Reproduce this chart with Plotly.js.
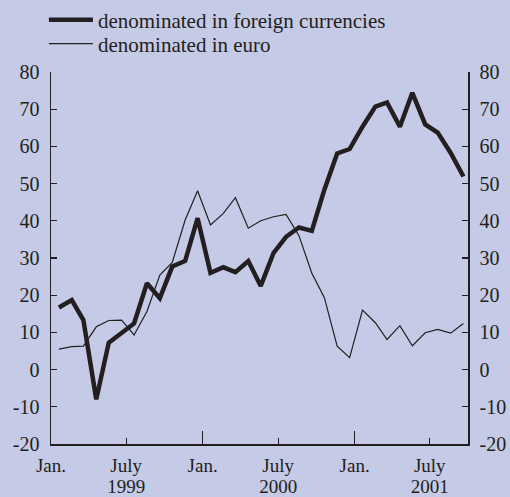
<!DOCTYPE html>
<html>
<head>
<meta charset="utf-8">
<script src="https://cdn.plot.ly/plotly-3.0.1.min.js"></script>
<style>html,body{margin:0;padding:0;background:#c5cae6;}#chart{width:510px;height:497px;}</style>
</head>
<body>
<div id="chart"></div>
<script>
// Monthly observations, Jan 1999 - Sep 2001
const months = ['1999-01','1999-02','1999-03','1999-04','1999-05','1999-06','1999-07','1999-08','1999-09','1999-10','1999-11','1999-12',
  '2000-01','2000-02','2000-03','2000-04','2000-05','2000-06','2000-07','2000-08','2000-09','2000-10','2000-11','2000-12',
  '2001-01','2001-02','2001-03','2001-04','2001-05','2001-06','2001-07','2001-08','2001-09'];
const foreignCurrencies = [16.7,18.7,13.3,-8.0,7.2,9.8,12.4,23.2,19.2,27.7,29.2,40.7,
  26.0,27.5,26.2,29.2,22.5,31.4,35.7,38.2,37.3,48.3,58.1,59.3,
  65.3,70.7,71.8,65.3,74.4,65.9,63.7,58.3,51.9];
const euro = [5.5,6.2,6.3,11.5,13.2,13.3,9.3,15.6,25.4,28.8,40.2,48.1,
  38.9,42.0,46.2,38.0,40.0,41.1,41.7,36.0,25.9,19.4,6.3,3.2,
  16.0,12.6,8.1,11.8,6.4,9.9,10.8,9.8,12.4];
const seriesNames = ['denominated in foreign currencies','denominated in euro'];
const tickDates = ['1999-01-01','1999-07-01','2000-01-01','2000-07-01','2001-01-01','2001-07-01'];
const tickLabels = ['Jan.','July','Jan.','July','Jan.','July'];
const yearDates = ['1999-07-01','2000-07-01','2001-07-01'];
const yearLabels = ['1999','2000','2001'];
const janDates = ['1999-01-01','2000-01-01','2001-01-01'];
const yTickVals = [-20,-10,0,10,20,30,40,50,60,70,80];
const yTickText = ['-20','-10','0','10','20','30','40','50','60','70','80'];

const xDates = months.map(m => m + '-20');
const ink = '#231f20';
const family = '"Liberation Serif", "Times New Roman", serif';
const font = {family: family, size: 20, color: ink};
const xFont = {family: family, size: 19, color: ink};
const legendFont = {family: family, size: 21, color: ink};
const xRange = ['1999-01-01', '2001-10-01'];

const traces = [
  {x: xDates, y: foreignCurrencies, name: seriesNames[0], type: 'scatter', mode: 'lines',
   line: {color: ink, width: 4.5}, legend: 'legend'},
  {x: xDates, y: euro, name: seriesNames[1], type: 'scatter', mode: 'lines',
   line: {color: ink, width: 1.2}, legend: 'legend2'},
  {x: xDates, y: euro, xaxis: 'x2', yaxis: 'y2', type: 'scatter', mode: 'lines', showlegend: false,
   hoverinfo: 'skip', line: {color: 'rgba(0,0,0,0)', width: 0}}
];

const yCommon = {
  range: [-20, 80], tickmode: 'array', tickvals: yTickVals, ticktext: yTickText,
  ticks: 'inside', ticklen: 6, tickwidth: 1.3, tickcolor: ink,
  showline: true, linecolor: ink, linewidth: 1.5, showgrid: false, zeroline: false,
  tickfont: font, ticklabelstandoff: 6, fixedrange: true, automargin: false
};

const legendCommon = {xanchor: 'left', yanchor: 'middle', bgcolor: 'rgba(0,0,0,0)',
  font: legendFont, itemwidth: 44, borderwidth: 0};

const layout = {
  width: 510, height: 497,
  paper_bgcolor: '#c5cae6', plot_bgcolor: '#c5cae6',
  font: font,
  margin: {l: 51, r: 42, t: 72, b: 53, autoexpand: false},
  showlegend: true,
  legend: Object.assign({x: -0.017, y: 1.1398}, legendCommon),
  legend2: Object.assign({x: -0.017, y: 1.0753}, legendCommon),
  xaxis: {
    type: 'date', range: xRange,
    tickmode: 'array', tickvals: tickDates, ticktext: tickLabels,
    ticks: 'inside', ticklen: 6, tickwidth: 1.3, tickcolor: ink,
    minor: {tickmode: 'array', tickvals: janDates, ticks: 'inside', ticklen: 13, tickwidth: 1.3, tickcolor: ink, showgrid: false},
    showline: true, linecolor: ink, linewidth: 1.5, showgrid: false, zeroline: false,
    tickfont: xFont, tickangle: 0, ticklabelstandoff: 4, fixedrange: true, automargin: false
  },
  xaxis2: {
    type: 'date', range: xRange, overlaying: 'x', side: 'bottom', anchor: 'y',
    tickmode: 'array', tickvals: yearDates, ticktext: yearLabels,
    ticks: '', showline: false, showgrid: false, zeroline: false,
    tickfont: xFont, tickangle: 0, ticklabelstandoff: 29, fixedrange: true, automargin: false
  },
  yaxis: Object.assign({side: 'left'}, yCommon),
  yaxis2: Object.assign({side: 'right', overlaying: 'y'}, yCommon)
};

Plotly.newPlot('chart', traces, layout, {displayModeBar: false, staticPlot: true});
</script>
</body>
</html>
